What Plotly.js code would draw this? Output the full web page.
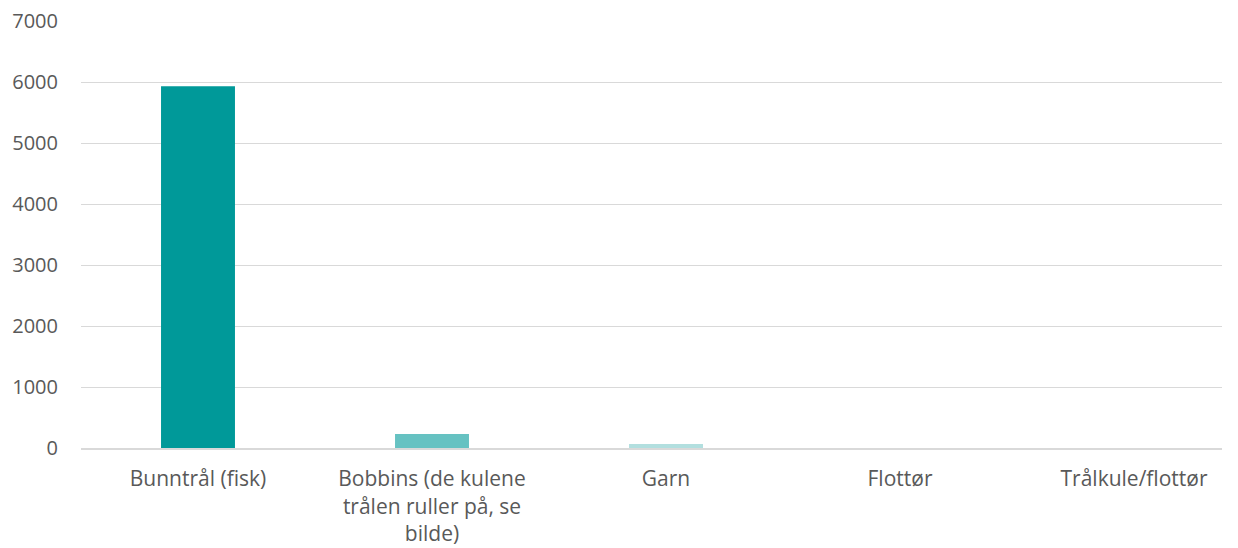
<!DOCTYPE html>
<html>
<head>
<meta charset="utf-8">
<script src="https://cdn.plot.ly/plotly-3.0.1.min.js"></script>
<style>
  html, body { margin: 0; padding: 0; background: #fff; }
  #chart { width: 1238px; height: 548px; }
</style>
</head>
<body>
<div id="chart"></div>
<script>
// Kategorier og verdier lest av figuren
const categories = [
  'Bunntrål (fisk)',
  'Bobbins (de kulene<br>trålen ruller på, se<br>bilde)',
  'Garn',
  'Flottør',
  'Trålkule/flottør'
];
const values = [5930, 230, 65, 2, 1];
const barColors = ['#009999', '#66C2C2', '#B2DFDF', '#CCEBEB', '#E0F2F2'];
const yTicks = [0, 1000, 2000, 3000, 4000, 5000, 6000, 7000];

const trace = {
  x: categories,
  y: values,
  type: 'bar',
  marker: { color: barColors },
  hoverinfo: 'x+y'
};

const layout = {
  width: 1238,
  height: 548,
  margin: { l: 81, r: 16, t: 21, b: 100 },
  paper_bgcolor: '#fff',
  plot_bgcolor: '#fff',
  bargap: 0.684,
  showlegend: false,
  font: { family: 'Open Sans, Liberation Sans, sans-serif', size: 20, color: '#595959' },
  xaxis: {
    range: [-0.5, 4.376],
    showgrid: false,
    showline: true,
    linecolor: '#d9d9d9',
    linewidth: 2,
    ticks: '',
    tickfont: { size: 21, color: '#595959' },
    ticklabelstandoff: 11
  },
  yaxis: {
    range: [0, 7000],
    tickvals: yTicks,
    showgrid: true,
    gridcolor: '#d9d9d9',
    gridwidth: 1,
    zeroline: false,
    showline: false,
    ticks: '',
    ticklabelstandoff: 22,
    tickfont: { size: 20, color: '#595959' }
  }
};

Plotly.newPlot('chart', [trace], layout, { displayModeBar: false, staticPlot: true });
</script>
</body>
</html>
